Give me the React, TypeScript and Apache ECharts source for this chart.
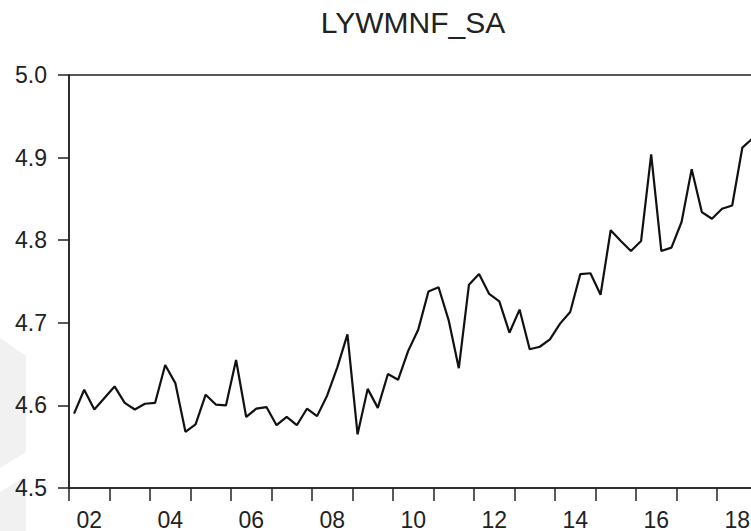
import React, { useEffect, useRef } from "react";
import * as echarts from "echarts";

const TITLE = "LYWMNF_SA";
const YEAR_LABELS = ["02", "03", "04", "05", "06", "07", "08", "09", "10", "11", "12", "13", "14", "15", "16", "17", "18"];
const Y_TICKS = [4.5, 4.6, 4.7, 4.8, 4.9, 5.0];
// quarterly observations, 2002Q1 .. 2018Q4
const VALUES = [
  4.590, 4.619, 4.595, 4.609,
  4.623, 4.603, 4.595, 4.602,
  4.603, 4.649, 4.627, 4.568,
  4.577, 4.613, 4.601, 4.600,
  4.655, 4.586, 4.596, 4.598,
  4.576, 4.586, 4.576, 4.596,
  4.587, 4.612, 4.646, 4.686,
  4.565, 4.620, 4.597, 4.638,
  4.631, 4.666, 4.692, 4.738,
  4.743, 4.703, 4.645, 4.746,
  4.759, 4.735, 4.726, 4.688,
  4.716, 4.668, 4.671, 4.680,
  4.699, 4.713, 4.759, 4.760,
  4.734, 4.812, 4.799, 4.787,
  4.799, 4.904, 4.787, 4.791,
  4.822, 4.886, 4.834, 4.826,
  4.838, 4.842, 4.912, 4.923,
];

const FONT = '"Liberation Sans", Arial, Helvetica, sans-serif';
const INK = "#222";

export default function App() {
  const ref = useRef<HTMLDivElement>(null);
  useEffect(() => {
    if (!ref.current) return;
    const chart = echarts.init(ref.current, null, { renderer: "svg" });
    chart.setOption({
      animation: false,
      backgroundColor: "#ffffff",
      graphic: [
        {
          type: "polygon",
          silent: true,
          z: -10,
          shape: { points: [[0, 338], [26, 356], [26, 452], [0, 468]] },
          style: { fill: "#f1f1f1" },
        },
        {
          type: "polygon",
          silent: true,
          z: -10,
          shape: { points: [[0, 492], [26, 476], [26, 531], [0, 531]] },
          style: { fill: "#f1f1f1" },
        },
        {
          type: "text",
          x: 413,
          y: 22,
          style: {
            text: TITLE,
            fontSize: 30,
            fontFamily: FONT,
            fill: INK,
            align: "center",
            verticalAlign: "middle",
          },
        },
      ],
      grid: {
        left: 69,
        top: 75,
        right: 800 - 757.5,
        bottom: 531 - 488,
        show: true,
        borderColor: INK,
        borderWidth: 1.5,
        backgroundColor: "transparent",
      },
      xAxis: [
        {
          type: "category",
          data: YEAR_LABELS,
          boundaryGap: true,
          axisLine: { show: true, lineStyle: { color: INK, width: 1.5 } },
          axisTick: { show: true, interval: 0, length: 13, inside: false, lineStyle: { color: INK, width: 1.5 } },
          axisLabel: { interval: 1, margin: 20, fontSize: 23, fontFamily: FONT, color: INK },
          splitLine: { show: false },
        },
        {
          type: "value",
          min: 0,
          max: VALUES.length,
          show: false,
          splitLine: { show: false },
        },
      ],
      yAxis: {
        type: "value",
        min: Y_TICKS[0],
        max: Y_TICKS[Y_TICKS.length - 1],
        interval: 0.1,
        axisLine: { show: true, lineStyle: { color: INK, width: 1.5 } },
        axisTick: { show: true, length: 11, lineStyle: { color: INK, width: 1.5 } },
        axisLabel: {
          margin: 22,
          fontSize: 23,
          fontFamily: FONT,
          color: INK,
          formatter: (v: number) => v.toFixed(1),
        },
        splitLine: { show: false },
      },
      series: [
        {
          type: "line",
          xAxisIndex: 1,
          showSymbol: false,
          symbol: "none",
          lineStyle: { color: "#111", width: 2.2 },
          data: VALUES.map((v, i) => [i + 0.5, v]),
        },
      ],
    });
    return () => chart.dispose();
  }, []);
  return (
    <div style={{ position: "fixed", left: 0, top: 0, width: 751, height: 531, overflow: "hidden", background: "#fff" }}>
      <div ref={ref} style={{ width: 800, height: 531 }} />
    </div>
  );
}
